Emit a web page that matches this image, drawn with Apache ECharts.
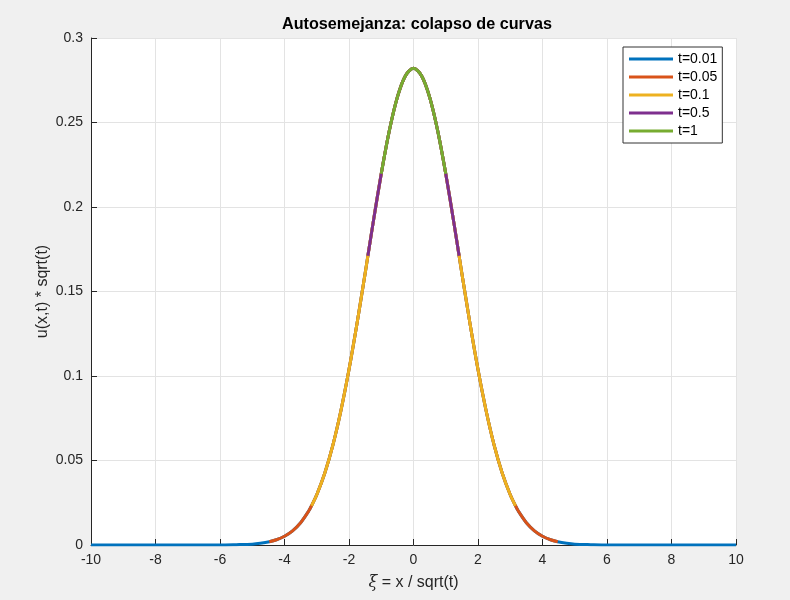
<!DOCTYPE html>
<html>
<head>
<meta charset="utf-8">
<script src="https://cdn.jsdelivr.net/npm/echarts@6/dist/echarts.min.js"></script>
<style>
html,body{margin:0;padding:0;background:#f0f0f0;}
#chart{width:790px;height:600px;}
</style>
</head>
<body>
<div id="chart"></div>
<script>
// xi = x / sqrt(t) sample positions
const xiValues = [-10,-9,-8,-7,-6,-5.5,-5,-4.75,-4.472,-4.25,-4,-3.75,-3.5,-3.25,-3.162,-3,-2.75,-2.5,-2.25,-2,-1.75,-1.5,-1.414,-1.25,-1,-0.75,-0.5,-0.25,0,
  0.25,0.5,0.75,1,1.25,1.414,1.5,1.75,2,2.25,2.5,2.75,3,3.162,3.25,3.5,3.75,4,4.25,4.472,4.75,5,5.5,6,7,8,9,10];
// u(x,t)*sqrt(t) values
const scaledU = [0,0,0,0,0,0.0002,0.0005,0.0010,0.0019,0.0031,0.0052,0.0084,0.0132,0.0201,0.0232,0.0297,0.0426,0.0591,0.0796,0.1038,0.1312,0.1607,0.1711,0.1909,0.2197,0.2451,0.2650,0.2777,0.2821,
  0.2777,0.2650,0.2451,0.2197,0.1909,0.1711,0.1607,0.1312,0.1038,0.0796,0.0591,0.0426,0.0297,0.0232,0.0201,0.0132,0.0084,0.0052,0.0031,0.0019,0.0010,0.0005,0.0002,0,0,0,0,0];
const seriesNames = ['t=0.01','t=0.05','t=0.1','t=0.5','t=1'];
// visible half-width of each curve in xi (x in [-1,1])
const halfWidths = [10, 4.472, 3.162, 1.414, 1];
const colors = ['#0072BD','#D95319','#EDB120','#7E2F8E','#77AC30'];
const xTicks = [-10,-8,-6,-4,-2,0,2,4,6,8,10];
const yTicks = [0,0.05,0.1,0.15,0.2,0.25,0.3];

const font = 'Liberation Sans, Arial, Helvetica, sans-serif';
const axisCol = '#262626';

const series = seriesNames.map((name, i) => ({
  name: name,
  type: 'line',
  symbol: 'none',
  showSymbol: false,
  smooth: 0.3,
  data: xiValues.map((x, k) => [x, scaledU[k]]).filter(p => Math.abs(p[0]) <= halfWidths[i] + 1e-6),
  lineStyle: { width: 3, color: colors[i] },
  itemStyle: { color: colors[i] },
  z: 2 + i
}));

const chart = echarts.init(document.getElementById('chart'), null, {renderer: 'canvas'});
chart.setOption({
  backgroundColor: '#f0f0f0',
  animation: false,
  title: {
    text: 'Autosemejanza: colapso de curvas',
    left: 277, top: 12,
    textStyle: { fontFamily: font, fontSize: 16.2, fontWeight: 'bold', color: '#000' }
  },
  legend: {
    orient: 'vertical',
    left: 623, top: 47,
    backgroundColor: '#fff',
    borderColor: '#333', borderWidth: 1,
    borderRadius: 0,
    padding: [5, 5, 5, 6],
    itemGap: 4,
    itemWidth: 44, itemHeight: 3,
    icon: 'rect',
    textStyle: { fontFamily: font, fontSize: 14, color: '#000' },
    data: seriesNames
  },
  grid: { left: 91, right: 54, top: 38, bottom: 55, show: true, backgroundColor: '#fff', borderWidth: 0 },
  xAxis: {
    type: 'value', min: -10, max: 10, interval: 2,
    name: '{i|ξ} = x / sqrt(t)',
    nameLocation: 'middle', nameGap: 30,
    nameTextStyle: { fontFamily: font, fontSize: 16, color: axisCol,
      rich: { i: { fontFamily: 'DejaVu Serif, serif', fontStyle: 'italic', fontSize: 16, color: axisCol } } },
    axisLine: { show: true, onZero: false, lineStyle: { color: axisCol, width: 1 } },
    axisTick: { show: true, inside: true, length: 6, lineStyle: { color: axisCol } },
    axisLabel: { fontFamily: font, fontSize: 14, color: axisCol, margin: 8 },
    splitLine: { show: true, lineStyle: { color: '#e3e3e3', width: 1 } }
  },
  yAxis: {
    type: 'value', min: 0, max: 0.3, interval: 0.05,
    name: 'u(x,t) * sqrt(t)',
    nameLocation: 'middle', nameGap: 40,
    nameMoveOverlap: false,
    nameTextStyle: { fontFamily: font, fontSize: 16, color: axisCol },
    axisLine: { show: true, onZero: false, lineStyle: { color: axisCol, width: 1 } },
    axisTick: { show: true, inside: true, length: 6, lineStyle: { color: axisCol } },
    axisLabel: { fontFamily: font, fontSize: 14, color: axisCol, margin: 8,
      formatter: v => String(Math.round(v*100)/100) },
    splitLine: { show: true, lineStyle: { color: '#e3e3e3', width: 1 } }
  },
  series: series
});
</script>
</body>
</html>
